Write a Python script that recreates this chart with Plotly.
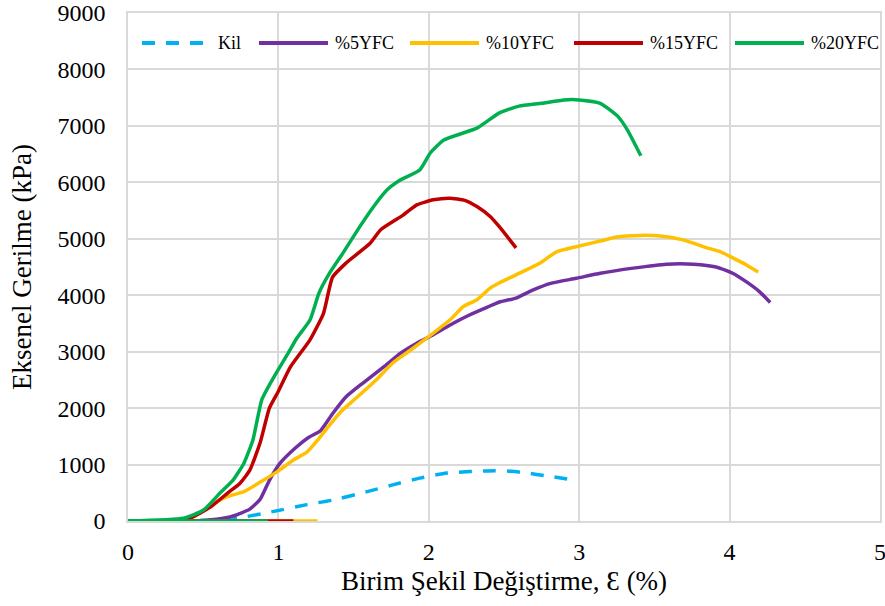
import plotly.graph_objects as go

# ---- data ----
kil_x = [0, 0.3, 0.6, 0.77, 0.97, 1.19, 1.36, 1.59, 1.76, 1.94, 2.12, 2.27, 2.44, 2.55, 2.65, 2.78, 2.94]
kil_y = [0, 0, 20, 70, 170, 290, 370, 520, 640, 760, 850, 875, 890, 880, 850, 800, 735]

yfc5_x = [0, 0.3, 0.5, 0.59, 0.70, 0.81, 0.88, 0.94, 1.01, 1.12, 1.20, 1.28, 1.36, 1.45, 1.56, 1.70,
          1.81, 1.92, 2.03, 2.16, 2.27, 2.39, 2.47, 2.58, 2.69, 2.81, 2.98, 3.14, 3.36, 3.58, 3.76,
          3.91, 4.02, 4.11, 4.20, 4.27]
yfc5_y = [0, 0, 10, 30, 90, 210, 390, 720, 1020, 1310, 1480, 1600, 1900, 2200, 2440, 2730,
          2970, 3150, 3300, 3500, 3650, 3790, 3880, 3950, 4090, 4210, 4300, 4390, 4480, 4550, 4550,
          4500, 4390, 4240, 4060, 3870]

yfc10_x = [0, 0.3, 0.45, 0.55, 0.66, 0.77, 0.88, 0.99, 1.10, 1.19, 1.26, 1.34, 1.42, 1.50, 1.65,
           1.76, 1.88, 2.03, 2.14, 2.23, 2.32, 2.41, 2.47, 2.58, 2.74, 2.85, 2.98, 3.14, 3.25, 3.40,
           3.54, 3.69, 3.85, 3.94, 4.03, 4.11, 4.19]
yfc10_y = [0, 0, 100, 280, 430, 520, 690, 870, 1080, 1220, 1430, 1700, 1950, 2140, 2500,
           2800, 3030, 3330, 3560, 3800, 3920, 4130, 4220, 4360, 4570, 4770, 4860, 4960, 5030, 5060,
           5050, 4980, 4840, 4770, 4650, 4540, 4410]

yfc15_x = [0, 0.27, 0.41, 0.55, 0.66, 0.745, 0.81, 0.88, 0.94, 1.00, 1.08, 1.21, 1.30, 1.36, 1.45,
           1.61, 1.68, 1.83, 1.92, 2.03, 2.14, 2.24, 2.32, 2.41, 2.47, 2.58]
yfc15_y = [0, 10, 50, 250, 490, 670, 900, 1400, 2000, 2300, 2730, 3210, 3680, 4320, 4570,
           4920, 5160, 5420, 5600, 5690, 5720, 5680, 5570, 5390, 5210, 4840]

yfc20_x = [0, 0.37, 0.50, 0.61, 0.70, 0.77, 0.83, 0.89, 0.97, 1.06, 1.12, 1.21, 1.27, 1.34, 1.43,
           1.54, 1.63, 1.72, 1.81, 1.94, 2.01, 2.10, 2.32, 2.47, 2.60, 2.75, 2.90, 3.00, 3.14, 3.26,
           3.32, 3.41]
yfc20_y = [0, 50, 190, 490, 730, 1020, 1430, 2150, 2550, 2950, 3230, 3560, 4040, 4390, 4750,
           5210, 5560, 5860, 6040, 6220, 6520, 6750, 6960, 7230, 7350, 7400, 7460, 7460, 7400, 7160,
           6930, 6470]

# zero-valued tail segments along the x axis (end strain)
tail10_end = 1.26
tail15_end = 1.10
tail20_end = 0.93

names = ["Kil", "%5YFC", "%10YFC", "%15YFC", "%20YFC"]
colors = ["#00B0F0", "#7030A0", "#FFC000", "#C00000", "#00B050"]
dashes = ["13px,11px", "solid", "solid", "solid", "solid"]

fig = go.Figure()
LW = 3.5
SM = 0.5


def curve(x, y, i):
    fig.add_trace(go.Scatter(x=x, y=y, mode="lines", name=names[i], showlegend=False,
                             line=dict(color=colors[i], width=LW, dash=dashes[i],
                                       shape="spline", smoothing=SM)))


def tail(end, i):
    fig.add_trace(go.Scatter(x=[0, end], y=[0, 0], mode="lines", showlegend=False,
                             hoverinfo="skip", line=dict(color=colors[i], width=LW)))


curve(kil_x, kil_y, 0)
curve(yfc5_x, yfc5_y, 1)
curve(yfc10_x, yfc10_y, 2)
tail(tail10_end, 2)
curve(yfc15_x, yfc15_y, 3)
tail(tail15_end, 3)
curve(yfc20_x, yfc20_y, 4)
tail(tail20_end, 4)

# ---- layout ----
W, H = 885, 606
ML, MR, MT, MB = 128, 5, 13, 85
PW, PH = W - ML - MR, H - MT - MB


def px_x(px):
    return (px - ML) / PW


def px_y(py):
    return (H - MB - py) / PH


# custom legend (long key lines like the reference)
leg_line_x0 = [142, 259, 410, 574, 735]
leg_line_len = 69
leg_y = 43
shapes = []
annotations = []
FONT = "Liberation Serif"
for i in range(len(names)):
    shapes.append(dict(type="line", xref="paper", yref="paper",
                       x0=px_x(leg_line_x0[i]), x1=px_x(leg_line_x0[i] + leg_line_len),
                       y0=px_y(leg_y), y1=px_y(leg_y),
                       line=dict(color=colors[i], width=4, dash=dashes[i])))
    annotations.append(dict(xref="paper", yref="paper", x=px_x(leg_line_x0[i] + leg_line_len + 5),
                            y=px_y(leg_y), xanchor="left", yanchor="middle", showarrow=False,
                            text=names[i], font=dict(family=FONT, size=18, color="black")))

GRID = "#d9d9d9"
fig.update_layout(
    width=W, height=H,
    margin=dict(l=ML, r=MR, t=MT, b=MB, autoexpand=False),
    paper_bgcolor="white", plot_bgcolor="white",
    font=dict(family=FONT, color="black", size=20),
    showlegend=False,
    shapes=shapes, annotations=annotations,
    xaxis=dict(range=[0, 5], dtick=1, tick0=0, showgrid=True, gridcolor=GRID, gridwidth=1.5,
               showline=True, linecolor=GRID, linewidth=1.5, mirror=True, zeroline=False,
               automargin=False, ticks="", ticklabelstandoff=8, ticklabeloverflow="allow",
               tickfont=dict(size=24, family=FONT),
               title=dict(text="Birim Şekil Değiştirme, Ɛ (%)",
                          font=dict(size=27, family=FONT), standoff=8)),
    yaxis=dict(range=[0, 9000], dtick=1000, tick0=0, showgrid=True, gridcolor=GRID, gridwidth=1.5,
               showline=True, linecolor=GRID, linewidth=1.5, mirror=True, zeroline=False,
               automargin=False, ticks="", ticklabelstandoff=16, ticklabeloverflow="allow",
               tickfont=dict(size=24, family=FONT),
               title=dict(text="Eksenel Gerilme (kPa)",
                          font=dict(size=27, family=FONT), standoff=18)),
)

fig.write_html("out.html", config={"displayModeBar": False},
               post_script="document.body.style.margin='0px';document.body.style.overflow='hidden';")
